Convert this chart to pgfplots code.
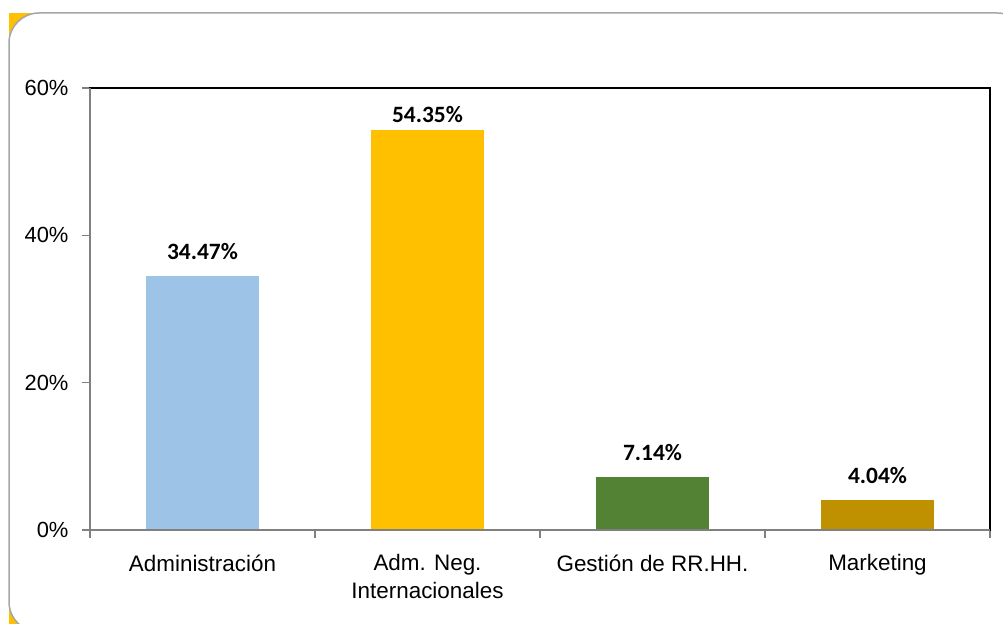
\documentclass[border=0pt]{standalone}
\usepackage{pgfplots}
\pgfplotsset{compat=1.18}
\usepackage{fontspec}
\setmainfont{Liberation Sans}
\newfontfamily\calibri{Carlito}
\definecolor{cA}{HTML}{9DC3E6}
\definecolor{cB}{HTML}{FFC000}
\definecolor{cC}{HTML}{548235}
\definecolor{cD}{HTML}{BF9000}
\definecolor{frameY}{HTML}{FFC000}
\definecolor{frameG}{HTML}{A6A6A6}
\definecolor{axG}{HTML}{808080}
\begin{document}
\begin{tikzpicture}
\useasboundingbox (0bp,0bp) rectangle (1003bp,624bp);
\begin{scope}
\clip (0bp,0bp) rectangle (1003bp,624bp);
\fill[frameY] (9bp,-8bp) rectangle (1027bp,611bp);
\draw[frameG, line width=1.5bp, fill=white, rounded corners=30bp] (9bp,-8bp) rectangle (1027bp,611bp);
\end{scope}
\begin{axis}[
  at={(90bp,94bp)}, anchor=south west,
  scale only axis, width=900bp, height=442bp,
  xmin=-0.5, xmax=3.5, ymin=0, ymax=60,
  ybar, bar width=0.5, bar shift=0pt,
  ytick={0,20,40,60}, yticklabels={0\%,20\%,40\%,60\%},
  xtick={0,1,2,3},
  xticklabels={Administración,{Adm. Neg.\\Internacionales},Gestión de RR.HH.,Marketing},
  major x tick style={draw=none},
  minor xtick={-0.5,0.5,1.5,2.5,3.5},
  tick align=outside, tick pos=left,
  major tick length=8bp, minor tick length=8bp,
  every tick/.style={axG, line width=1.2bp},
  axis line style={black, line width=1.5bp},
  yticklabel style={font=\fontsize{22}{30}\selectfont, xshift=-10bp},
  xticklabel style={font=\fontsize{22.5}{28}\selectfont, align=center, yshift=-13bp},
  point meta=explicit symbolic,
  nodes near coords,
  every node near coord/.append style={font=\calibri\bfseries\fontsize{23.5}{28}\selectfont, yshift=13bp, black},
  clip=false,
]
\addplot[fill=cA, draw=none] coordinates {(0,34.47) [34.47\%]};
\addplot[fill=cB, draw=none, every node near coord/.append style={yshift=-10bp}] coordinates {(1,54.35) [54.35\%]};
\addplot[fill=cC, draw=none] coordinates {(2,7.14) [7.14\%]};
\addplot[fill=cD, draw=none] coordinates {(3,4.04) [4.04\%]};
\draw[axG, line width=2bp] (axis cs:-0.5,60) -- (axis cs:-0.5,0) -- (axis cs:3.5,0);
\end{axis}
\end{tikzpicture}
\end{document}
